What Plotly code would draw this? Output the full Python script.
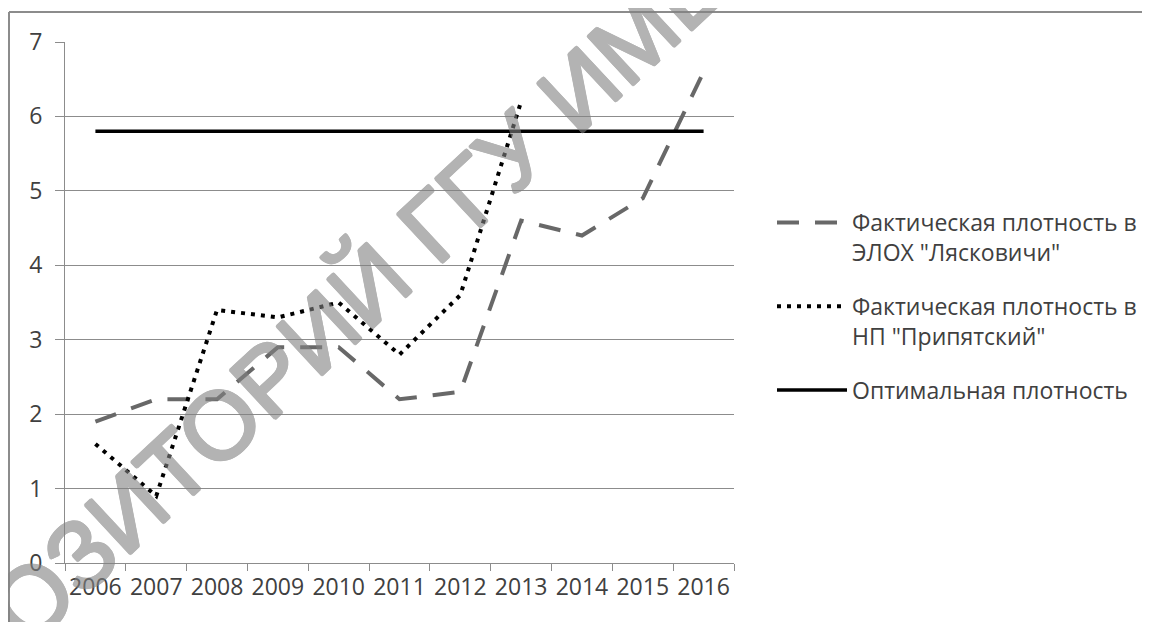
import plotly.graph_objects as go

# ---- data ----
years = ["2006", "2007", "2008", "2009", "2010", "2011", "2012", "2013", "2014", "2015", "2016"]
lyaskovichi = [1.9, 2.2, 2.2, 2.9, 2.9, 2.2, 2.3, 4.6, 4.4, 4.9, 6.6]
pripyatsky = [1.6, 0.9, 3.4, 3.3, 3.5, 2.8, 3.6, 6.2, None, None, None]
optimal = [5.8, 5.8, 5.8, 5.8, 5.8, 5.8, 5.8, 5.8, 5.8, 5.8, 5.8]
y_ticks = [0, 1, 2, 3, 4, 5, 6, 7]

name_lyas = "Фактическая плотность в<br>ЭЛОХ \"Лясковичи\""
name_prip = "Фактическая плотность в<br>НП \"Припятский\""
name_opt = "Оптимальная плотность"
watermark = "РЕПОЗИТОРИЙ ГГУ ИМЕНИ Ф. СКОРИНЫ"

FONT = "Open Sans, Noto Sans, DejaVu Sans, sans-serif"
TXT = "#404040"
GRID = "#8c8c8c"
WM = "#828282"

fig = go.Figure()
fig.add_trace(go.Scatter(
    x=years, y=lyaskovichi, mode="lines", name=name_lyas, legendgroup="a",
    line=dict(color="#686868", width=4, dash="22px,16px"),
))
fig.add_trace(go.Scatter(
    x=years, y=pripyatsky, mode="lines", name=name_prip, legendgroup="b",
    line=dict(color="#000000", width=4, dash="4px,6px"),
))
fig.add_trace(go.Scatter(
    x=years, y=optimal, mode="lines", name=name_opt, legendgroup="c",
    line=dict(color="#000000", width=3.5),
))

# page body has an 8px margin: figure pixel = window pixel - 8
OFF = 8
W, H = 1150, 622
L, T = 65 - OFF, 42 - OFF
pw, ph = 734 - 65, 521
R = W - L - pw
B = H - T - ph


def px2paper(wx, wy):
    """window pixel -> paper coordinates"""
    fx, fy = wx - OFF, wy - OFF
    return (fx - L) / pw, (T + ph - fy) / ph


bx0, by0 = px2paper(9, 12)
bx1, _ = px2paper(1200, 12)
_, by1 = px2paper(9, 700)
lx, _ = px2paper(772, 0)
_, ly = px2paper(0, 201)

fig.update_layout(
    width=W, height=H,
    margin=dict(l=L, r=R, t=T, b=B, pad=0),
    paper_bgcolor="white", plot_bgcolor="white",
    font=dict(family=FONT, size=23, color=TXT),
    showlegend=True,
    legend=dict(
        x=lx, xanchor="left", y=ly, yanchor="top",
        itemwidth=70, valign="top", tracegroupgap=21,
        font=dict(family=FONT, size=23, color=TXT),
        bgcolor="rgba(0,0,0,0)", borderwidth=0,
    ),
    xaxis=dict(
        type="category", range=[-0.5, 10.5], tickson="boundaries",
        showgrid=False, showline=True, linecolor=GRID, linewidth=1,
        ticks="outside", ticklen=7, tickcolor=GRID, tickwidth=1,
        tickangle=0, zeroline=False, ticklabelstandoff=3,
        tickfont=dict(family=FONT, size=23, color=TXT),
    ),
    yaxis=dict(
        range=[0, 7], tickvals=y_ticks, showgrid=True, gridcolor=GRID, gridwidth=1,
        showline=True, linecolor=GRID, linewidth=1, zeroline=False,
        ticks="outside", ticklen=9, tickcolor=GRID, tickwidth=1,
        ticklabelstandoff=8,
        tickfont=dict(family=FONT, size=23, color=TXT),
    ),
    shapes=[
        dict(type="line", xref="paper", yref="paper", x0=bx0, y0=by0, x1=bx1, y1=by0,
             line=dict(color=GRID, width=2), layer="below"),
        dict(type="line", xref="paper", yref="paper", x0=bx0, y0=by0, x1=bx0, y1=by1,
             line=dict(color=GRID, width=2), layer="below"),
    ],
)

shadow = ", ".join(
    f"{dx}px {dy}px 0 {WM}"
    for dx, dy in [(1.5, 0), (-1.5, 0), (0, 1.5), (0, -1.5),
                   (1.1, 1.1), (-1.1, -1.1), (1.1, -1.1), (-1.1, 1.1)]
)

wx, wy = px2paper(569, 98)
fig.add_annotation(
    text=watermark, xref="paper", yref="paper", x=wx, y=wy,
    xanchor="center", yanchor="middle", showarrow=False, textangle=-43,
    opacity=0.6,
    font=dict(family="Liberation Sans, Arial, sans-serif", size=96,
              color=WM, shadow=shadow),
)

fig.write_html("out.html")
